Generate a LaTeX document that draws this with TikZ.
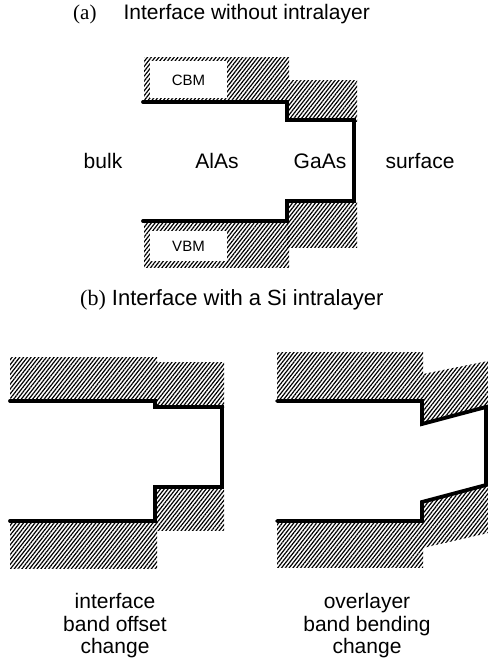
\documentclass[tikz,border=0pt]{standalone}
\usepackage{fontspec}
\setmainfont{Liberation Sans}
\newfontfamily\serifpart{Liberation Serif}
\usetikzlibrary{patterns.meta}
\tikzset{
  hatch/.style={pattern={Lines[angle=52,distance=3pt,line width=1.2pt]}},
  band/.style={line width=3.8pt,line join=miter,line cap=round},
  lbl/.style={font=\fontsize{21}{23}\selectfont,inner sep=0pt},
  small/.style={font=\fontsize{15}{17}\selectfont,inner sep=0pt},
  caption/.style={lbl,align=center,font=\fontsize{21}{22.5}\selectfont}
}
\begin{document}
\begin{tikzpicture}[x=1pt,y=-1pt]
\useasboundingbox (0,0) rectangle (488,670);

% ---------- (a) interface without intralayer ----------
\node[lbl,anchor=west] (ta) at (73,14) {{\serifpart(a)}\hspace{27pt}Interface without intralayer};

\fill[hatch] (144,57) rectangle (289,102);
\fill[hatch] (289,80) rectangle (357,121);
\fill[hatch] (287,201) rectangle (357,247);
\fill[hatch] (144,221) rectangle (289,267);
\fill[white] (150,61) rectangle (227,98);
\fill[white] (150,231) rectangle (227,261);
\node[small] (cbm) at (188.5,80) {CBM};
\node[small] (vbm) at (188.5,246) {VBM};

\draw[band] (143,102) -- (287,102) -- (287,120) -- (354,120) -- (354,201)
  -- (287,201) -- (287,221) -- (143,221);

\node[lbl] (bulk) at (103,161) {bulk};
\node[lbl] (alas) at (217,161) {AlAs};
\node[lbl] (gaas) at (320,161) {GaAs};
\node[lbl] (surf) at (420,161) {surface};

% ---------- (b) interface with a Si intralayer ----------
\node[lbl,anchor=west,font=\fontsize{22}{24}\selectfont] (tb) at (80,300)
  {{\serifpart(b)} Interface with a Si intralayer};

% left: band offset change at the interface
\fill[hatch] (10,357) rectangle (157,401);
\fill[hatch] (157,362) rectangle (224,407);
\fill[hatch] (157,487) rectangle (224,530);
\fill[hatch] (10,521) rectangle (157,568);
\draw[band] (10,401) -- (155,401) -- (155,407) -- (222,407) -- (222,487)
  -- (155,487) -- (155,521) -- (10,521);

% right: band bending change in the overlayer
\fill[hatch] (277,352) rectangle (423,401);
\fill[hatch] (423,374) -- (488,361) -- (488,407) -- (423,424) -- cycle;
\fill[hatch] (423,502) -- (488,485) -- (488,533) -- (423,548) -- cycle;
\fill[hatch] (277,521) rectangle (423,567);
\draw[band] (277,401) -- (422,401) -- (422,424) -- (486,407) -- (486,485)
  -- (422,502) -- (422,521) -- (277,521);

\node[caption] (capl) at (115,626) {interface\\band offset\\change};
\node[caption] (capr) at (367,626) {overlayer\\band bending\\change};
\end{tikzpicture}
\end{document}
